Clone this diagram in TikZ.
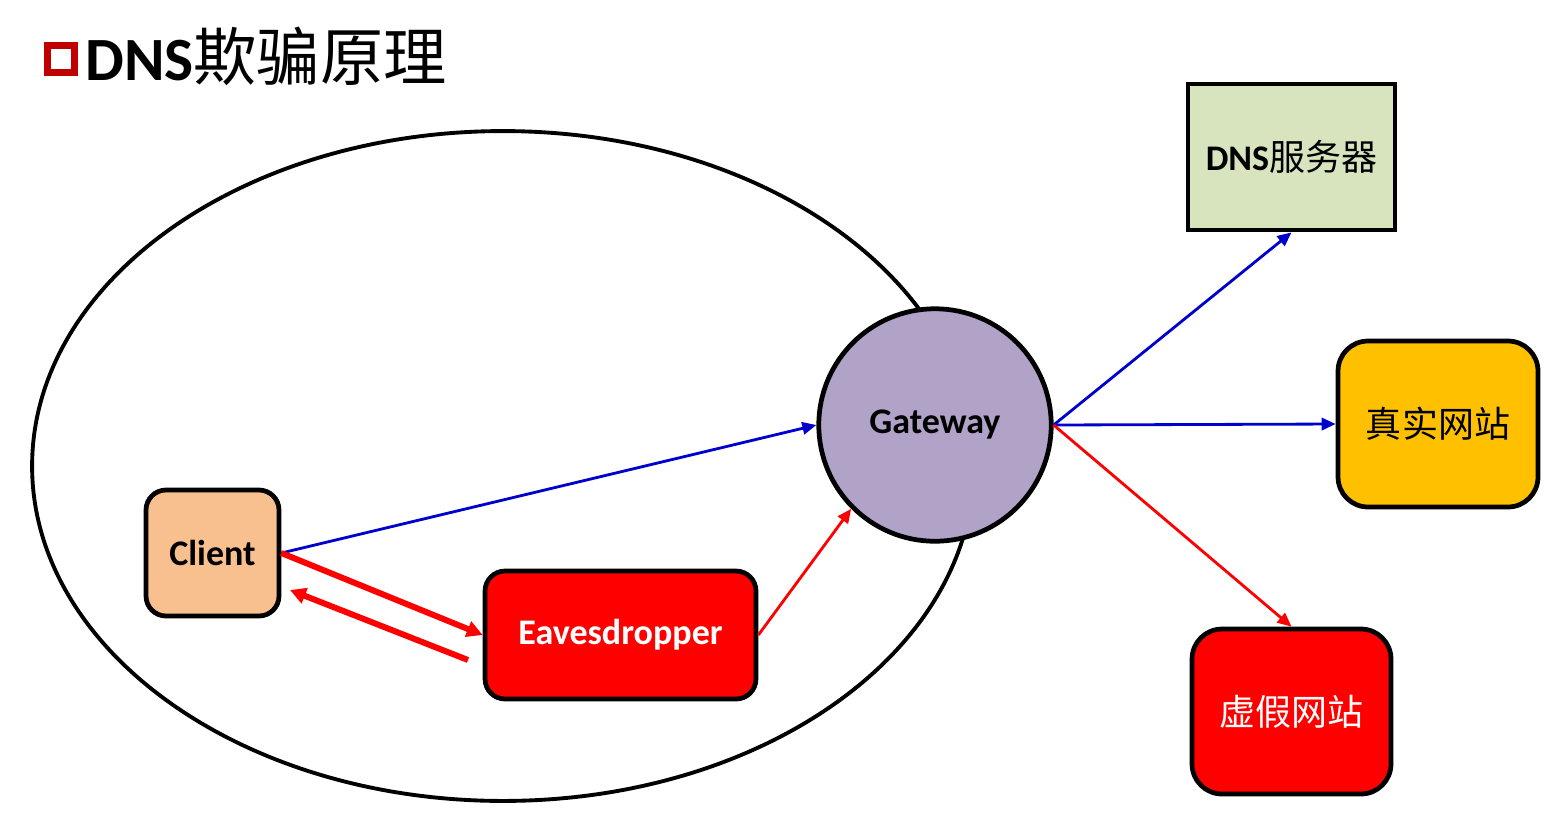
\documentclass[tikz,border=0pt]{standalone}
\usepackage{fontspec}
\setmainfont{Carlito}
\newfontfamily\cjk{Noto Sans CJK SC}
\usetikzlibrary{arrows.meta}
\definecolor{bluearr}{HTML}{0000CC}
\definecolor{peach}{HTML}{F9C08F}
\definecolor{lav}{HTML}{B1A2C7}
\definecolor{olivebg}{HTML}{D7E4BD}
\definecolor{gold}{HTML}{FFC000}
\definecolor{darkred}{HTML}{C00000}
\tikzset{
  box/.style={draw=black, line width=2.7pt, rounded corners=0.4cm, align=center, inner sep=0pt, font=\bfseries\fontsize{20.5}{23}\selectfont},
  cnbox/.style={draw=black, line width=2.7pt, rounded corners=0.6cm, align=center, inner sep=0pt, font=\cjk\fontsize{20.5}{23}\selectfont},
  bluearrow/.style={draw=bluearr, line width=1.6pt, -{Triangle[length=8pt,width=7pt]}},
  redthin/.style={draw=red, line width=1.6pt, -{Triangle[length=8pt,width=7pt]}},
  redthick/.style={draw=red, line width=3.4pt, -{Triangle[length=9pt,width=9pt]}},
}
\begin{document}
\begin{tikzpicture}[x=0.02cm,y=-0.02cm]
\useasboundingbox (0,0) rectangle (1544,816);
% title
\node[draw=darkred, line width=4pt, fill=white, minimum size=0.54cm, inner sep=0pt] (icon) at (61,59) {};
\node[anchor=west, inner sep=0pt] (title) at (85,56) {\bfseries\fontsize{35}{38}\selectfont DNS{\mdseries\cjk\fontsize{36}{40}\selectfont 欺骗原理}};
% ellipse
\draw[line width=2.2pt] (503,466) ellipse [x radius=9.42cm, y radius=6.7cm];
% nodes
\node[circle, draw=black, line width=2.7pt, fill=lav, minimum size=4.65cm, inner sep=0pt, font=\bfseries\fontsize{20.5}{23}\selectfont] (gw) at (935,425) {\raisebox{-2pt}{Gateway}};
\node[box, fill=peach, minimum width=2.66cm, minimum height=2.52cm] (client) at (212.5,553) {Client};
\node[box, fill=red, text=white, minimum width=5.42cm, minimum height=2.56cm] (eaves) at (620.5,635) {Eavesdropper};
\node[draw=black, line width=2.7pt, fill=olivebg, minimum width=4.14cm, minimum height=2.92cm, inner sep=0pt, font=\bfseries\fontsize{20.5}{23}\selectfont] (dns) at (1291.5,157) {DNS{\mdseries\cjk\fontsize{20.5}{23}\selectfont 服务器}};
\node[cnbox, fill=gold, minimum width=4.0cm, minimum height=3.32cm] (real) at (1438,424) {真实网站};
\node[cnbox, fill=red, text=white, minimum width=3.98cm, minimum height=3.3cm] (fake) at (1291.5,711.5) {虚假网站};
% connectors
\coordinate (r1) at (468,660);
\coordinate (r2) at (290,590);
\draw[bluearrow] (client.east) -- (gw.west);
\draw[redthick] (client.east) -- (eaves.west);
\draw[redthick] (r1) -- (r2);
\draw[redthin] (eaves.east) -- (gw.225);
\draw[bluearrow] (gw.east) -- (dns.south);
\draw[bluearrow] (gw.east) -- (real.west);
\draw[redthin] (gw.east) -- (fake.north);
\end{tikzpicture}
\end{document}
